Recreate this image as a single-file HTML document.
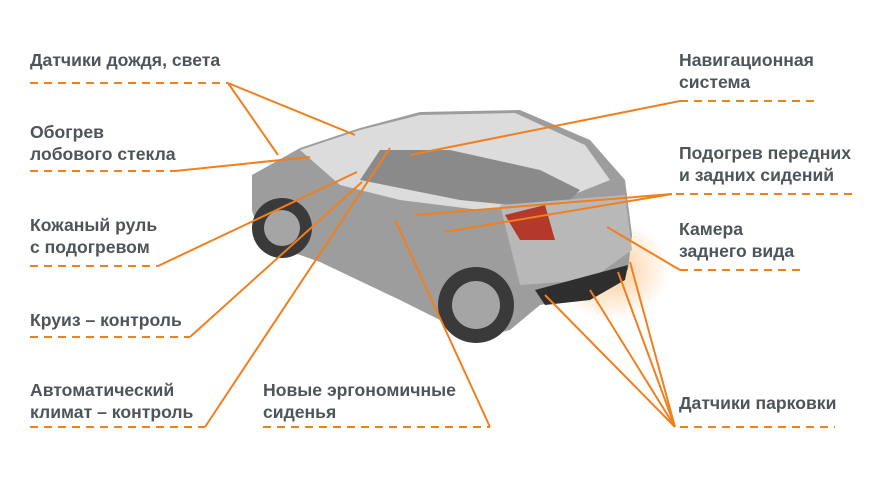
<!DOCTYPE html>
<html><head><meta charset="utf-8"><style>
html,body{margin:0;padding:0;background:#fff}
#c{position:relative;width:872px;height:490px;overflow:hidden;font-family:"Liberation Sans",sans-serif}
.t{position:absolute;font-weight:bold;font-size:17.6px;line-height:22px;color:#4d5559;white-space:nowrap}
svg{position:absolute;left:0;top:0}
</style></head><body><div id="c">
<svg width="872" height="490">
<defs><radialGradient id="g" cx="0.5" cy="0.5" r="0.5"><stop offset="0" stop-color="#ffb060" stop-opacity="0.7"/><stop offset="1" stop-color="#ffb060" stop-opacity="0"/></radialGradient></defs>
<ellipse cx="610" cy="270" rx="60" ry="50" fill="url(#g)"/>
<path d="M252,175 L300,148 L360,128 L420,112 L520,110 L590,140 L625,180 L632,235 L628,270 L590,295 L540,305 L510,330 L470,340 L440,320 L400,300 L320,262 L300,255 L262,245 L252,210 Z" fill="#9d9d9d"/>
<path d="M300,150 L360,130 L420,115 L515,113 L585,145 L610,180 L560,200 L480,210 L400,200 L340,185 Z" fill="#dcdcdc"/>
<path d="M360,180 L460,200 L560,210 L580,190 L540,170 L450,150 L380,150 Z" fill="#8a8a8a"/>
<path d="M500,205 L625,195 L632,250 L590,280 L520,285 Z" fill="#b8b8b8"/>
<path d="M505,215 L545,205 L555,240 L520,240 Z" fill="#b33a2a"/>
<path d="M535,290 L628,265 L625,280 L590,300 L545,305 Z" fill="#2e2e2e"/>
<circle cx="282" cy="228" r="30" fill="#3a3a3a"/><circle cx="282" cy="228" r="18" fill="#a5a5a5"/>
<circle cx="476" cy="305" r="38" fill="#3a3a3a"/><circle cx="476" cy="305" r="24" fill="#a5a5a5"/>
<g stroke="#f07f1e" stroke-width="2" fill="none">
<g stroke-dasharray="8,6">
<line x1="30" y1="83" x2="228" y2="83"/>
<line x1="30" y1="171" x2="175" y2="171"/>
<line x1="30" y1="266" x2="158" y2="266"/>
<line x1="30" y1="337" x2="190" y2="337"/>
<line x1="30" y1="427" x2="205" y2="427"/>
<line x1="263" y1="427" x2="490" y2="427"/>
<line x1="680" y1="101" x2="820" y2="101"/>
<line x1="676" y1="194" x2="858" y2="194"/>
<line x1="680" y1="270" x2="800" y2="270"/>
<line x1="680" y1="427" x2="835" y2="427"/>
</g>
<path d="M228,83 L278,155 M228,83 L355,135 M175,171 L310,157 M158,266 L357,172 M190,337 L362,182 M205,427 L390,148 M490,427 L395,220 M680,101 L410,155 M672,194 L415,215 M672,194 L445,232 M680,270 L607,227 M675,427 L545,295 M675,427 L590,290 M675,427 L618,272 M675,427 L630,262"/>
</g>
</svg>
<div class="t" style="left:30px;top:49px">Датчики дождя, света</div>
<div class="t" style="left:30px;top:121px">Обогрев<br>лобового стекла</div>
<div class="t" style="left:30px;top:214px">Кожаный руль<br>с подогревом</div>
<div class="t" style="left:30px;top:309px">Круиз – контроль</div>
<div class="t" style="left:30px;top:379px">Автоматический<br>климат – контроль</div>
<div class="t" style="left:263px;top:379px">Новые эргономичные<br>сиденья</div>
<div class="t" style="left:679px;top:49px">Навигационная<br>система</div>
<div class="t" style="left:679px;top:142px">Подогрев передних<br>и задних сидений</div>
<div class="t" style="left:679px;top:218px">Камера<br>заднего вида</div>
<div class="t" style="left:679px;top:392px">Датчики парковки</div>
</div></body></html>
